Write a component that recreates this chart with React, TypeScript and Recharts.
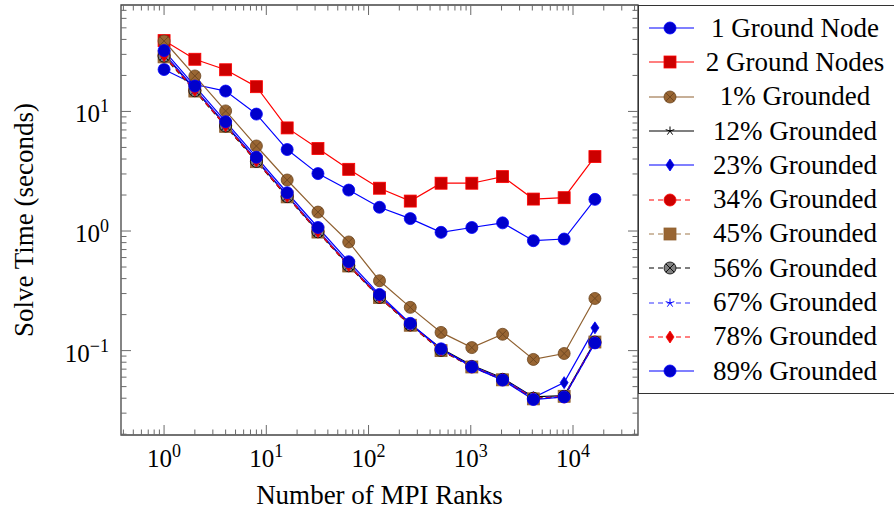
import React from 'react';
import { LineChart, Line, XAxis, YAxis, ReferenceArea } from 'recharts';

// MPI ranks on the x axis
const RANKS = [1, 2, 4, 8, 16, 32, 64, 128, 256, 512, 1024, 2048, 4096, 8192, 16384];

// solve times (seconds)
const ONE_NODE = [22.4, 16.8, 14.8, 9.5, 4.8, 3.02, 2.2, 1.58, 1.27, 0.975, 1.07, 1.17, 0.83, 0.857, 1.84];
const TWO_NODES = [39.1, 27.3, 22.3, 16.1, 7.28, 4.89, 3.28, 2.28, 1.78, 2.51, 2.51, 2.85, 1.85, 1.9, 4.19];
const PCT_1 = [38.8, 19.8, 10.1, 5.14, 2.67, 1.44, 0.81, 0.384, 0.23, 0.142, 0.106, 0.137, 0.0844, 0.0946, 0.273];
const PCT_12 = [30.0, 15.2, 7.7, 3.9, 1.97, 1.0, 0.52, 0.282, 0.166, 0.104, 0.0755, 0.059, 0.041, 0.042, 0.119];
const PCT_23 = [30.5, 15.4, 7.8, 3.95, 1.99, 1.01, 0.525, 0.285, 0.167, 0.102, 0.0745, 0.058, 0.0405, 0.054, 0.155];
const PCT_34 = [29.5, 15.0, 7.6, 3.85, 1.95, 0.99, 0.515, 0.28, 0.164, 0.101, 0.073, 0.057, 0.0395, 0.041, 0.117];
const PCT_45 = [28.6, 14.8, 7.5, 3.8, 1.93, 0.98, 0.51, 0.278, 0.163, 0.1, 0.073, 0.057, 0.0395, 0.0415, 0.118];
const PCT_56 = [29.0, 14.9, 7.55, 3.82, 1.94, 0.985, 0.512, 0.279, 0.164, 0.1005, 0.0735, 0.0575, 0.04, 0.0415, 0.118];
const PCT_67 = [29.8, 15.1, 7.65, 3.88, 1.96, 0.995, 0.518, 0.281, 0.165, 0.1015, 0.074, 0.058, 0.04, 0.042, 0.119];
const PCT_78 = [29.3, 15.0, 7.58, 3.86, 1.95, 0.99, 0.515, 0.28, 0.165, 0.101, 0.0735, 0.0575, 0.0398, 0.0412, 0.118];
const PCT_89 = [32.3, 16.3, 8.2, 4.14, 2.09, 1.07, 0.554, 0.295, 0.169, 0.1035, 0.0731, 0.0567, 0.039, 0.041, 0.116];

const X_MAJOR = [1, 10, 100, 1000, 10000];
const Y_MAJOR = [0.1, 1, 10];
const X_DOMAIN = [0.379, 43230];
const Y_DOMAIN = [0.0197, 77.6];

const X_TITLE = 'Number of MPI Ranks';
const Y_TITLE = 'Solve Time (seconds)';

// plot box in page pixels
const PLOT_TOP = 5;
const PLOT_RIGHT = 638;

type Shape = 'circle' | 'square' | 'otimes' | 'star' | 'diamond';

type Series = {
  name: string;
  values: number[];
  stroke: string;
  fill: string;
  mark: string;
  shape: Shape;
  dashed: boolean;
};

const SERIES: Series[] = [
  { name: '1 Ground Node', values: ONE_NODE, stroke: '#0000ff', fill: '#0000cc', mark: '#0000ff', shape: 'circle', dashed: false },
  { name: '2 Ground Nodes', values: TWO_NODES, stroke: '#ff0000', fill: '#cc0000', mark: '#ff0000', shape: 'square', dashed: false },
  { name: '1% Grounded', values: PCT_1, stroke: '#8f6030', fill: '#996633', mark: '#6b4520', shape: 'otimes', dashed: false },
  { name: '12% Grounded', values: PCT_12, stroke: '#000000', fill: '#000000', mark: '#000000', shape: 'star', dashed: false },
  { name: '23% Grounded', values: PCT_23, stroke: '#0000ff', fill: '#0000cc', mark: '#0000ff', shape: 'diamond', dashed: false },
  { name: '34% Grounded', values: PCT_34, stroke: '#ff0000', fill: '#cc0000', mark: '#ff0000', shape: 'circle', dashed: true },
  { name: '45% Grounded', values: PCT_45, stroke: '#a0784a', fill: '#996633', mark: '#8f6030', shape: 'square', dashed: true },
  { name: '56% Grounded', values: PCT_56, stroke: '#000000', fill: '#808080', mark: '#000000', shape: 'otimes', dashed: true },
  { name: '67% Grounded', values: PCT_67, stroke: '#3333ff', fill: '#0000ff', mark: '#0000ff', shape: 'star', dashed: true },
  { name: '78% Grounded', values: PCT_78, stroke: '#ff0000', fill: '#dd0000', mark: '#ff0000', shape: 'diamond', dashed: true },
  { name: '89% Grounded', values: PCT_89, stroke: '#0000ff', fill: '#0000cc', mark: '#0000ff', shape: 'circle', dashed: false },
];

const data = RANKS.map((r, i) => {
  const row: Record<string, number> = { ranks: r };
  SERIES.forEach((s, k) => { row['s' + k] = s.values[i]; });
  return row;
});

// log minor ticks (2..9 x 10^k) inside the axis range
const logTicks = (lo: number, hi: number) => {
  const out: number[] = [];
  for (let d = Math.floor(Math.log10(lo)); d <= Math.ceil(Math.log10(hi)); d++) {
    for (let m = 1; m <= 9; m++) {
      const v = m * Math.pow(10, d);
      if (v >= lo && v <= hi) out.push(v);
    }
  }
  return out;
};
const X_TICKS = logTicks(X_DOMAIN[0], X_DOMAIN[1]);
const Y_TICKS = logTicks(Y_DOMAIN[0], Y_DOMAIN[1]);

const isMajor = (v: number, majors: number[]) => majors.some(m => Math.abs(m - v) / m < 1e-6);
const expOf = (v: number) => {
  const e = Math.round(Math.log10(v));
  return e < 0 ? '\u2212' + Math.abs(e) : String(e);
};

const FONT = '"Liberation Serif", "DejaVu Serif", serif';
const TICK_COLOR = '#6a6a6a';

const Marker = ({ shape, cx, cy, fill, mark }: { shape: Shape; cx: number; cy: number; fill: string; mark: string }) => {
  if (shape === 'circle') {
    return <circle cx={cx} cy={cy} r={6} fill={fill} stroke={mark} strokeWidth={0.8} />;
  }
  if (shape === 'square') {
    return <rect x={cx - 6} y={cy - 6} width={12} height={12} fill={fill} stroke={mark} strokeWidth={0.8} />;
  }
  if (shape === 'otimes') {
    const d = 4.2;
    return (
      <g>
        <circle cx={cx} cy={cy} r={6} fill={fill} stroke={mark} strokeWidth={0.8} />
        <path d={`M${cx - d},${cy - d}L${cx + d},${cy + d}M${cx - d},${cy + d}L${cx + d},${cy - d}`} stroke={mark} strokeWidth={0.9} />
      </g>
    );
  }
  if (shape === 'diamond') {
    return <polygon points={`${cx},${cy - 6} ${cx + 4},${cy} ${cx},${cy + 6} ${cx - 4},${cy}`} fill={fill} stroke={mark} strokeWidth={0.8} />;
  }
  // star: five spokes
  const spokes = [0, 1, 2, 3, 4].map(k => {
    const a = (-90 + k * 72) * Math.PI / 180;
    return `M${cx},${cy}L${cx + 4.5 * Math.cos(a)},${cy + 4.5 * Math.sin(a)}`;
  }).join('');
  return <path d={spokes} stroke={mark} strokeWidth={1} fill="none" />;
};

// bottom axis tick: inward tick at bottom and top of the box, label on majors
const XTick = (props: any) => {
  const { x, y, payload } = props;
  const v = payload.value;
  const major = isMajor(v, X_MAJOR);
  const len = major ? 10 : 5.5;
  return (
    <g>
      <line x1={x} y1={y} x2={x} y2={y - len} stroke={TICK_COLOR} strokeWidth={1} />
      <line x1={x} y1={PLOT_TOP} x2={x} y2={PLOT_TOP + len} stroke={TICK_COLOR} strokeWidth={1} />
      {major && (
        <text x={x} y={y + 32} textAnchor="middle" fontFamily={FONT} fontSize={25} fill="#000">
          <tspan>10</tspan>
          <tspan dy={-10} fontSize={18}>{expOf(v)}</tspan>
        </text>
      )}
    </g>
  );
};

// left axis tick: inward tick at left and right of the box, label on majors
const YTick = (props: any) => {
  const { x, y, payload } = props;
  const v = payload.value;
  const major = isMajor(v, Y_MAJOR);
  const len = major ? 10 : 5.5;
  return (
    <g>
      <line x1={x} y1={y} x2={x + len} y2={y} stroke={TICK_COLOR} strokeWidth={1} />
      <line x1={PLOT_RIGHT} y1={y} x2={PLOT_RIGHT - len} y2={y} stroke={TICK_COLOR} strokeWidth={1} />
      {major && (
        <text x={x - 12} y={y + 11} textAnchor="end" fontFamily={FONT} fontSize={25} fill="#000">
          <tspan>10</tspan>
          <tspan dy={-10} fontSize={18}>{expOf(v)}</tspan>
        </text>
      )}
    </g>
  );
};

const LegendBox = () => (
  <div
    style={{
      position: 'absolute',
      left: 638,
      top: 5,
      width: 256,
      height: 389,
      boxSizing: 'border-box',
      borderTop: '1.3px solid #333',
      borderBottom: '1.3px solid #333',
      borderLeft: '1.3px solid #333',
      background: '#fff',
      paddingTop: 5,
      fontFamily: FONT,
      fontSize: 27,
    }}
  >
    {SERIES.map(s => (
      <div key={s.name} style={{ height: 34.3, display: 'flex', alignItems: 'center' }}>
        <svg width={56} height={20} style={{ flex: 'none' }}>
          <line x1={10} y1={10} x2={55} y2={10} stroke={s.stroke} strokeWidth={1.2} strokeDasharray={s.dashed ? '5 4' : undefined} />
          <Marker shape={s.shape} cx={31} cy={10} fill={s.fill} mark={s.mark} />
        </svg>
        <span style={{ marginLeft: 4, width: 192, textAlign: 'center', whiteSpace: 'nowrap' }}>{s.name}</span>
      </div>
    ))}
  </div>
);

export default function App() {
  return (
    <div style={{ position: 'absolute', left: 0, top: 0, width: 894, height: 510, background: '#fff' }}>
      <LineChart width={894} height={510} data={data} margin={{ top: 5, right: 256, bottom: 0, left: 0 }}>
        <XAxis
          xAxisId="b"
          dataKey="ranks"
          type="number"
          scale="log"
          domain={X_DOMAIN}
          allowDataOverflow
          ticks={X_TICKS}
          interval={0}
          height={75}
          tickSize={0}
          tickMargin={0}
          tickLine={false}
          axisLine={false}
          tick={<XTick />}
        />
        <YAxis
          yAxisId="l"
          type="number"
          scale="log"
          domain={Y_DOMAIN}
          allowDataOverflow
          ticks={Y_TICKS}
          interval={0}
          width={121}
          tickSize={0}
          tickMargin={0}
          tickLine={false}
          axisLine={false}
          tick={<YTick />}
        />
        {/* axis box */}
        <ReferenceArea
          xAxisId="b"
          yAxisId="l"
          x1={X_DOMAIN[0]}
          x2={X_DOMAIN[1]}
          y1={Y_DOMAIN[0]}
          y2={Y_DOMAIN[1]}
          fill="none"
          stroke="#444"
          strokeWidth={1.3}
          ifOverflow="visible"
        />
        {SERIES.map((s, k) => (
          <Line
            key={s.name}
            xAxisId="b"
            yAxisId="l"
            type="linear"
            dataKey={'s' + k}
            name={s.name}
            stroke={s.stroke}
            strokeWidth={1.2}
            strokeDasharray={s.dashed ? '5 4' : undefined}
            isAnimationActive={false}
            activeDot={false}
            dot={(p: any) => (
              <Marker key={`${k}-${p.index}`} shape={s.shape} cx={p.cx} cy={p.cy} fill={s.fill} mark={s.mark} />
            )}
          />
        ))}
      </LineChart>
      <svg width={894} height={510} style={{ position: 'absolute', left: 0, top: 0, pointerEvents: 'none' }}>
        <text x={379.5} y={504} textAnchor="middle" fontFamily={FONT} fontSize={27} fill="#000">
          {X_TITLE}
        </text>
        <text x={33} y={220} transform="rotate(-90 33 220)" textAnchor="middle" fontFamily={FONT} fontSize={27} fill="#000">
          {Y_TITLE}
        </text>
      </svg>
      <LegendBox />
    </div>
  );
}
